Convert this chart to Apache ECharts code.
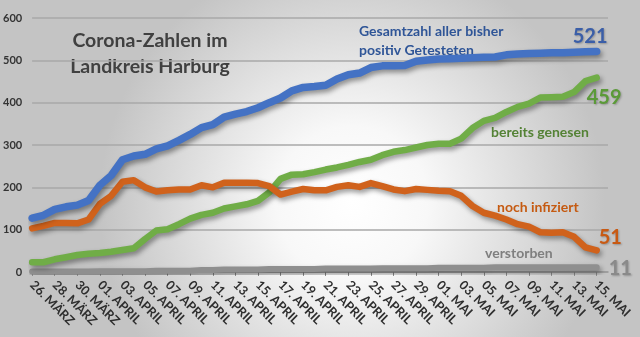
<!DOCTYPE html>
<html>
<head>
<meta charset="utf-8">
<script src="https://cdn.jsdelivr.net/npm/echarts@6/dist/echarts.min.js"></script>
<style>
  html, body { margin: 0; padding: 0; }
  #chart { width: 640px; height: 337px; }
</style>
</head>
<body>
<div id="chart"></div>
<script>
// Tagesdaten Landkreis Harburg, 26. März bis 15. Mai
const dates = [
  '26. MÄRZ', '27. MÄRZ', '28. MÄRZ', '29. MÄRZ', '30. MÄRZ', '31. MÄRZ',
  '01. APRIL', '02. APRIL', '03. APRIL', '04. APRIL', '05. APRIL', '06. APRIL',
  '07. APRIL', '08. APRIL', '09. APRIL', '10. APRIL', '11. APRIL', '12. APRIL',
  '13. APRIL', '14. APRIL', '15. APRIL', '16. APRIL', '17. APRIL', '18. APRIL',
  '19. APRIL', '20. APRIL', '21. APRIL', '22. APRIL', '23. APRIL', '24. APRIL',
  '25. APRIL', '26. APRIL', '27. APRIL', '28. APRIL', '29. APRIL', '30. APRIL',
  '01. MAI', '02. MAI', '03. MAI', '04. MAI', '05. MAI', '06. MAI', '07. MAI',
  '08. MAI', '09. MAI', '10. MAI', '11. MAI', '12. MAI', '13. MAI', '14. MAI',
  '15. MAI'
];

const gesamt = [
  127, 134, 148, 154, 158, 169, 205, 228, 265, 274, 278, 291, 298, 311, 325, 341,
  348, 366, 373, 379, 388, 400, 411, 428, 436, 438, 441, 456, 466, 470, 483, 487,
  487, 488, 498, 501, 503, 504, 505, 506, 507, 508, 513, 515, 516, 517, 518, 518,
  519, 520, 521
];

const genesen = [
  23, 23, 30, 35, 40, 43, 45, 48, 52, 56, 78, 98, 101, 113, 126, 135,
  140, 150, 155, 160, 168, 188, 220, 230, 231, 236, 242, 247, 253, 260, 265, 276,
  284, 288, 294, 300, 303, 303, 315, 340, 357, 364, 378, 390, 398, 412, 413, 414,
  425, 451, 459
];

const infiziert = [
  103, 109, 116, 116, 115, 124, 161, 180, 213, 217, 200, 190, 193, 195, 195, 205,
  200, 211, 211, 211, 210, 203, 183, 190, 196, 193, 193, 201, 205, 201, 210, 203,
  195, 191, 196, 194, 192, 191, 180, 156, 140, 133, 124, 113, 107, 94, 93, 94,
  83, 58, 51
];

const verstorben = [
  1, 1, 1, 1, 1, 1, 2, 2, 2, 2, 2, 3, 3, 3, 3, 5,
  5, 6, 6, 6, 6, 7, 7, 7, 7, 7, 8, 8, 8, 8, 8, 9,
  9, 9, 9, 9, 10, 10, 10, 10, 10, 11, 11, 11, 11, 11, 11, 11,
  11, 11, 11
];

const yTicks = { min: 0, max: 600, step: 100 };

const FONT = 'Lato, "Open Sans", sans-serif';

// one spare slot on the right so the grid reaches a bit past the last day
const categories = dates.concat(['']);
const everyOther = (i) => i % 2 === 0 && i < dates.length;

function lineSeries(name, data, color, width, labelColor, labelOffset) {
  return {
    name: name,
    type: 'line',
    data: data,
    symbol: 'none',
    smooth: false,
    z: 3,
    lineStyle: {
      color: color,
      width: width,
      cap: 'round',
      join: 'round',
      shadowColor: 'rgba(0,0,0,0.4)',
      shadowBlur: 5,
      shadowOffsetX: 2,
      shadowOffsetY: 3
    },
    endLabel: {
      show: true,
      formatter: (p) => String(p.value),
      color: labelColor,
      fontFamily: FONT,
      fontWeight: 'bold',
      fontSize: 20,
      offset: labelOffset,
      textShadowColor: 'rgba(0,0,0,0.25)',
      textShadowBlur: 2,
      textShadowOffsetX: 1,
      textShadowOffsetY: 1
    }
  };
}

const chart = echarts.init(document.getElementById('chart'));

chart.setOption({
  animation: false,
  backgroundColor: {
    type: 'radial',
    x: 0.55, y: 0.6, r: 0.75,
    colorStops: [
      { offset: 0, color: '#ffffff' },
      { offset: 0.3, color: '#f8f8f8' },
      { offset: 1, color: '#c4c4c4' }
    ]
  },
  grid: { left: 32, right: 32, top: 18, bottom: 65, containLabel: false },
  xAxis: {
    type: 'category',
    data: categories,
    boundaryGap: false,
    axisLine: { lineStyle: { color: '#9a9a9a', width: 1.5 } },
    axisTick: { interval: everyOther, length: 4, lineStyle: { color: '#8a8a8a' } },
    axisLabel: {
      interval: everyOther,
      rotate: -45,
      margin: 11,
      color: '#2e2e2e',
      fontFamily: FONT,
      fontWeight: 'bold',
      fontSize: 12.5
    },
    splitLine: { show: false }
  },
  yAxis: {
    type: 'value',
    min: yTicks.min,
    max: yTicks.max,
    interval: yTicks.step,
    axisLine: { show: false },
    axisTick: { show: false },
    axisLabel: {
      margin: 10,
      color: '#333333',
      fontFamily: FONT,
      fontWeight: 'bold',
      fontSize: 11
    },
    splitLine: { lineStyle: { color: '#a8a8a8', width: 1.5 } }
  },
  series: [
    lineSeries('verstorben', verstorben, '#8f8f8f', 6, '#8a8a8a', [4, 1]),
    lineSeries('genesen', genesen, '#70ad47', 6.5, '#5b9a38', [-18, 20]),
    lineSeries('infiziert', infiziert, '#d0621c', 6.5, '#c85a14', [-6, -13]),
    lineSeries('gesamt', gesamt, '#4472c4', 7.5, '#3a5ea8', [-32, -15])
  ],
  graphic: [
    {
      type: 'text', x: 150, y: 28,
      style: {
        text: 'Corona-Zahlen im\nLandkreis Harburg',
        fill: '#404040',
        font: 'bold 19.5px ' + FONT,
        align: 'center',
        lineHeight: 26
      }
    },
    {
      type: 'text', x: 359, y: 22,
      style: {
        text: 'Gesamtzahl aller bisher\npositiv Getesteten',
        fill: '#2f5597',
        font: 'bold 14px ' + FONT,
        lineHeight: 19
      }
    },
    {
      type: 'text', x: 491, y: 125,
      style: { text: 'bereits genesen', fill: '#548235', font: 'bold 14px ' + FONT }
    },
    {
      type: 'text', x: 497, y: 200,
      style: { text: 'noch infiziert', fill: '#c55a11', font: 'bold 14px ' + FONT }
    },
    {
      type: 'text', x: 485, y: 246,
      style: { text: 'verstorben', fill: '#7f7f7f', font: 'bold 14px ' + FONT }
    }
  ]
});
</script>
</body>
</html>
